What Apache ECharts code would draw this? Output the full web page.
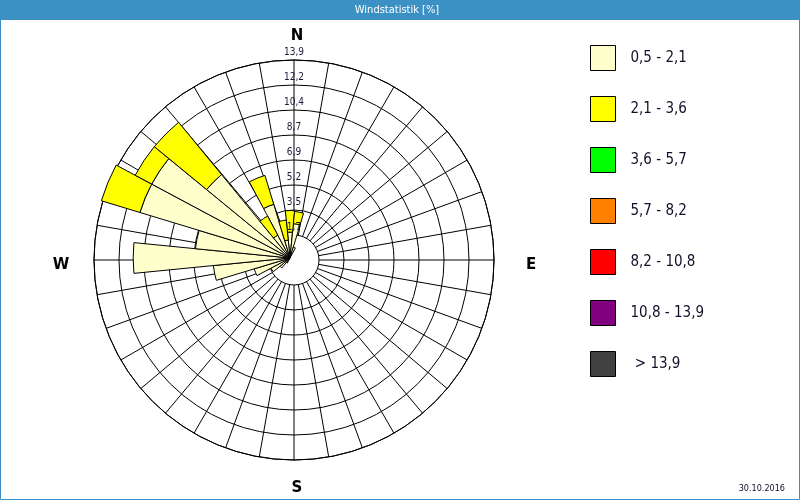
<!DOCTYPE html>
<html><head><meta charset="utf-8">
<script src="https://cdn.jsdelivr.net/npm/echarts@6/dist/echarts.min.js"></script>
<style>html,body{margin:0;padding:0;background:#fff}#c{width:800px;height:500px}</style>
</head><body><div id="c"></div>
<script>
// 32 wind directions (11.25° sectors), clockwise from North
const directions = ['N','NzO','NNO','NOzN','NO','NOzO','ONO','OzN','O','OzS','OSO','SOzO','SO','SOzS','SSO','SzO',
                    'S','SzW','SSW','SWzS','SW','SWzW','WSW','WzS','W','WzN','WNW','NWzW','NW','NWzN','NNW','NzW'];
// ring tick labels (radius axis)
const ringLabels = ['1,7','3,5','5,2','6,9','8,7','10,4','12,2','13,9'];
const ringMax = 13.9;
// speed classes (legend)
const speedClasses = ['0,5 - 2,1','2,1 - 3,6','3,6 - 5,7','5,7 - 8,2','8,2 - 10,8','10,8 - 13,9',' > 13,9'];
const classColors = ['#ffffcc','#ffff00','#00ff00','#ff8000','#ff0000','#800080','#404040'];
// frequency [%] per direction and class (stacked)
const class1 = [1.8,2.4,0.8,0,0,0,0,0, 0,0,0,0,0,0,0,0, 0,0,0,0.4,0.9,1.5,2.6,5.35, 10.9,6.6,10.9,10.9,7.5,1.8,3.9,1.25];
const class2 = [1.5,0.85,0,0,0,0,0,0, 0,0,0,0,0,0,0,0, 0,0,0,0,0,0,0,0, 0,0,2.8,1.3,4.7,1.5,2.1,1.4];
const class3 = [0,0,0,0,0,0,0,0, 0,0,0,0,0,0,0,0, 0,0,0,0,0,0,0,0, 0,0,0,0,0,0,0,0];
const class4 = [0,0,0,0,0,0,0,0, 0,0,0,0,0,0,0,0, 0,0,0,0,0,0,0,0, 0,0,0,0,0,0,0,0];
const class5 = [0,0,0,0,0,0,0,0, 0,0,0,0,0,0,0,0, 0,0,0,0,0,0,0,0, 0,0,0,0,0,0,0,0];
const class6 = [0,0,0,0,0,0,0,0, 0,0,0,0,0,0,0,0, 0,0,0,0,0,0,0,0, 0,0,0,0,0,0,0,0];
const class7 = [0,0,0,0,0,0,0,0, 0,0,0,0,0,0,0,0, 0,0,0,0,0,0,0,0, 0,0,0,0,0,0,0,0];
const classData = [class1,class2,class3,class4,class5,class6,class7];

const ringStep = ringMax / ringLabels.length;
const chart = echarts.init(document.getElementById('c'), null, {renderer:'canvas'});
const FONT = "'DejaVu Sans Condensed','DejaVu Sans',sans-serif";
const barSeries = speedClasses.map((name,i)=>({
  type:'bar', coordinateSystem:'polar', polarIndex:1, name, stack:'wind',
  data: classData[i].map(v => v > 0 ? v : '-'),
  barCategoryGap:'0%', barGap:'0%', silent:true,
  itemStyle:{color:classColors[i], borderColor:'#000', borderWidth:1},
  z:3
}));
const hiddenAngle = {type:'value', min:0, max:360, startAngle:90, clockwise:true,
  axisLine:{show:false}, axisTick:{show:false}, axisLabel:{show:false}, splitLine:{show:false}};
chart.setOption({
  animation:false,
  backgroundColor:'#ffffff',
  polar:[
    {center:[294,260], radius:[25,200]},
    {center:[290,258], radius:[0,200]},
    {center:[294,260], radius:[25,200]}
  ],
  angleAxis:[
    {polarIndex:0, type:'value', min:0, max:360, interval:10, startAngle:90, clockwise:true,
     axisLine:{show:true, lineStyle:{color:'#000', width:1}}, axisTick:{show:false}, axisLabel:{show:false},
     splitLine:{show:true, lineStyle:{color:'#000', width:1}}},
    {polarIndex:1, type:'category', data:directions, startAngle:90 + 180/directions.length, clockwise:true,
     boundaryGap:true, axisLine:{show:false}, axisTick:{show:false}, axisLabel:{show:false}, splitLine:{show:false}},
    Object.assign({polarIndex:2}, hiddenAngle)
  ],
  radiusAxis:[
    {polarIndex:0, type:'value', min:ringStep, max:ringMax, interval:ringStep,
     axisLine:{show:false}, axisTick:{show:false}, axisLabel:{show:false},
     splitLine:{show:true, lineStyle:{color:['rgba(0,0,0,0)','#000','#000','#000','#000','#000','#000','#000'], width:1}}},
    {polarIndex:1, type:'value', min:0, max:ringMax,
     axisLine:{show:false}, axisTick:{show:false}, axisLabel:{show:false}, splitLine:{show:false}},
    {polarIndex:2, type:'value', min:ringStep, max:ringMax, interval:ringStep, z:10, zlevel:1,
     axisLine:{show:false}, axisTick:{show:false}, splitLine:{show:false},
     axisLabel:{show:true, showMinLabel:true, showMaxLabel:true, hideOverlap:false, margin:0, align:'center', verticalAlign:'bottom',
                padding:[0,0,3,0], formatter:(v,i)=>ringLabels[i], fontSize:10, color:'#1a1a3a', fontFamily:FONT}}
  ],
  legend:{
    data:speedClasses, orient:'vertical', left:590, top:45, padding:0, itemWidth:25, itemHeight:25, itemGap:25,
    icon:'rect', selectedMode:false,
    itemStyle:{borderColor:'#000', borderWidth:1},
    textStyle:{fontSize:15, lineHeight:18, color:'#10102a', fontFamily:FONT, padding:[0,0,0,10]}
  },
  series: barSeries,
  graphic:[
    {type:'rect', shape:{x:0,y:0,width:800,height:20}, style:{fill:'#3c91c4'}, z:20, silent:true},
    {type:'rect', shape:{x:0.5,y:0.5,width:799,height:499}, style:{fill:null, stroke:'#3c91c4', lineWidth:1}, z:20, silent:true},
    {type:'text', x:397, y:10, z:21, style:{text:'Windstatistik [%]', fill:'#fff', font:"11px "+FONT, textAlign:'center', textVerticalAlign:'middle'}},
    {type:'text', x:297, y:36, z:21, style:{text:'N', fill:'#000', font:"bold 15px 'DejaVu Sans',sans-serif", textAlign:'center', textVerticalAlign:'middle'}},
    {type:'text', x:297, y:488, z:21, style:{text:'S', fill:'#000', font:"bold 15px 'DejaVu Sans',sans-serif", textAlign:'center', textVerticalAlign:'middle'}},
    {type:'text', x:61, y:265, z:21, style:{text:'W', fill:'#000', font:"bold 15px 'DejaVu Sans',sans-serif", textAlign:'center', textVerticalAlign:'middle'}},
    {type:'text', x:531, y:265, z:21, style:{text:'E', fill:'#000', font:"bold 15px 'DejaVu Sans',sans-serif", textAlign:'center', textVerticalAlign:'middle'}},
    {type:'text', x:785, y:489, z:21, style:{text:'30.10.2016', fill:'#10102a', font:"9px "+FONT, textAlign:'right', textVerticalAlign:'middle'}}
  ]
});
</script></body></html>
